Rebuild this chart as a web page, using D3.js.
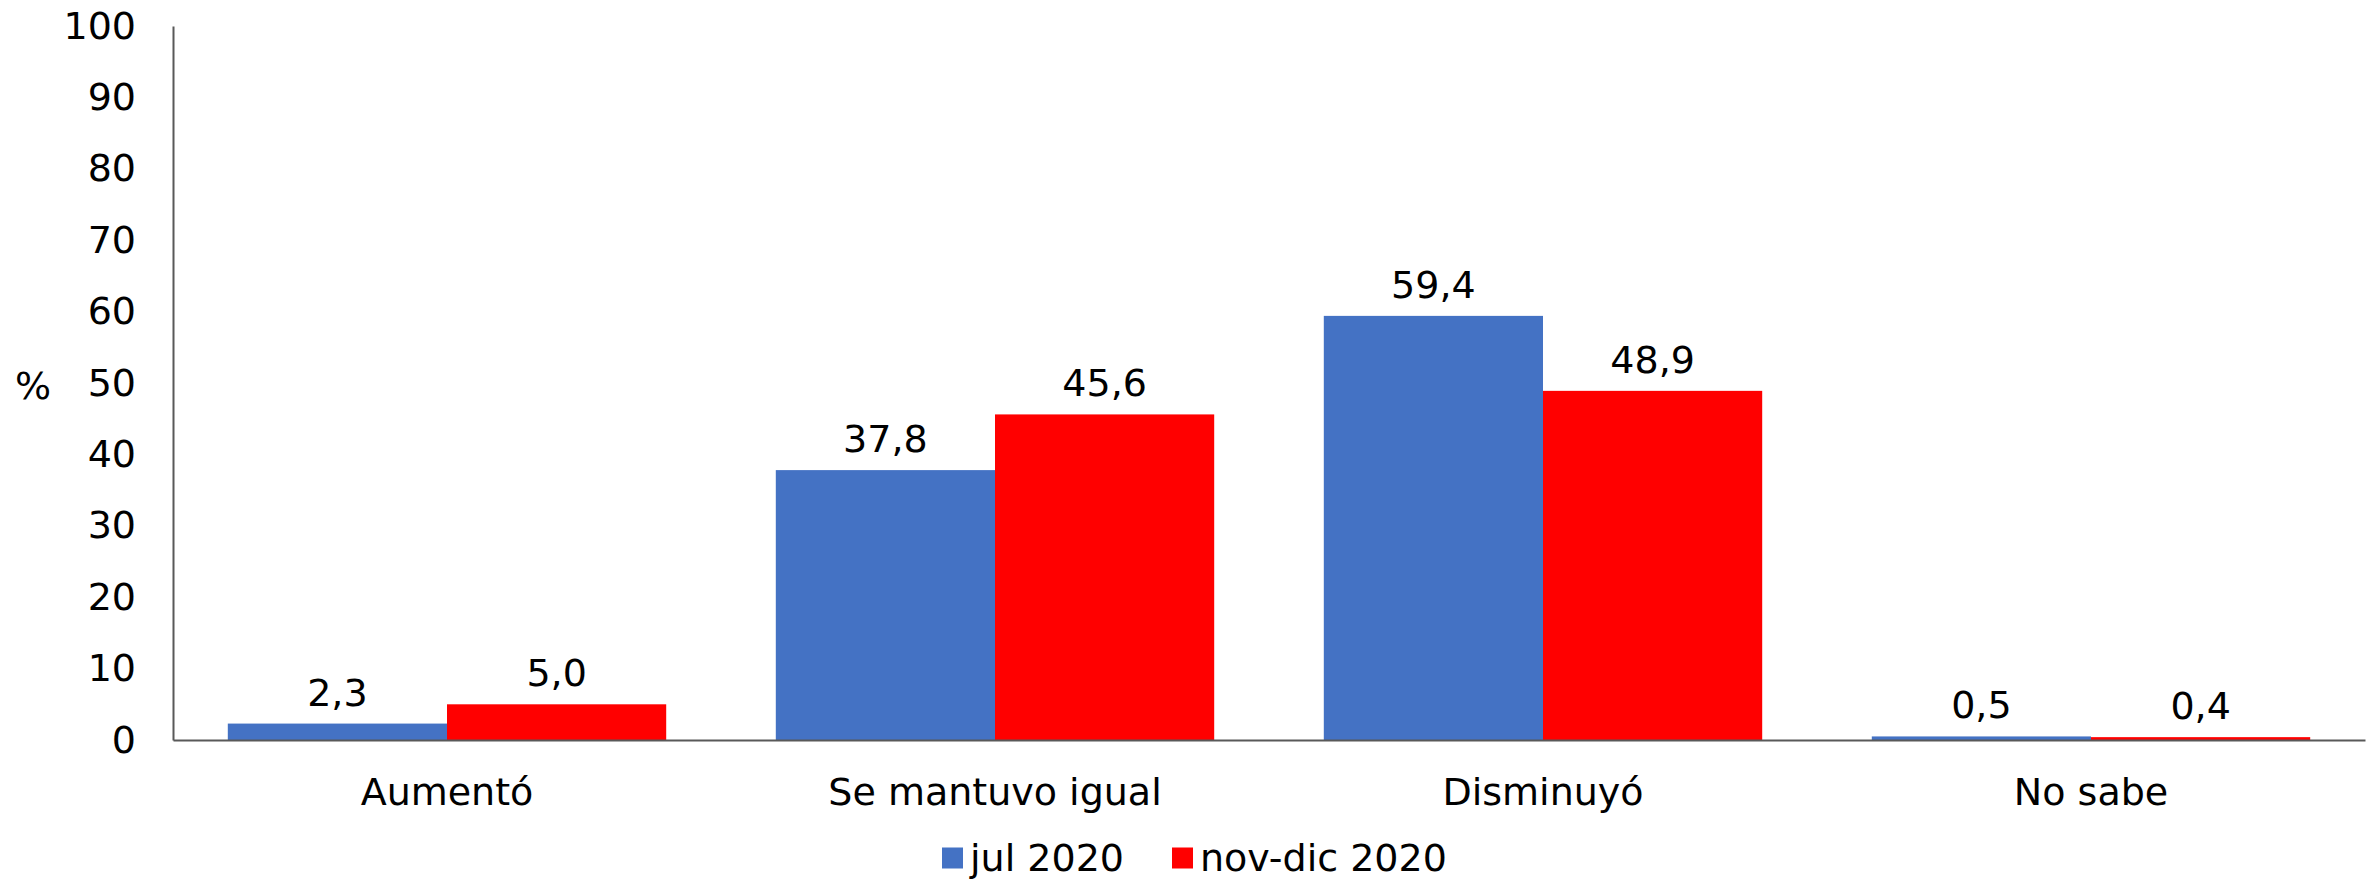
<!DOCTYPE html>
<html>
<head>
<meta charset="utf-8">
<script src="https://cdn.jsdelivr.net/npm/d3@7"></script>
<style>
	body { margin: 0; background: #fff; }
	svg { display: block; }
</style>
</head>
<body>
<svg id="chart" width="2374" height="879"></svg>
<script>
/*	Chart data ---------------------------------------------------------------*/
var categories = ["Aumentó", "Se mantuvo igual", "Disminuyó", "No sabe"];
var seriesNames = ["jul 2020", "nov-dic 2020"];
var julValues = [2.3, 37.8, 59.4, 0.5];
var novValues = [5.0, 45.6, 48.9, 0.4];
var yTicks = [0, 10, 20, 30, 40, 50, 60, 70, 80, 90, 100];
var colors = ["#4472C4", "#FF0000"];

var width = 2374, height = 879;
var padding = {left: 173, right: 9, top: 26, bottom: 139};
var fontFamily = "'DejaVu Sans', Verdana, sans-serif";
var fontSize = "38px";

var svg = d3.select("#chart");

/*	Scales ---------------------------------------------------------------------*/
var xScale = d3.scaleBand()
	.domain(categories)
	.range([padding.left, width - padding.right])
	.paddingInner(0)
	.paddingOuter(0);

var xInner = d3.scaleBand()
	.domain(seriesNames)
	.range([0, xScale.bandwidth()])
	.paddingInner(0)
	.paddingOuter(0.25);

var yScale = d3.scaleLinear()
	.domain([0, 100])
	.range([height - padding.bottom, padding.top]);

var rows = categories.map(function(c, i) {
	return {cat: c, values: [julValues[i], novValues[i]]};
});

/*	Bars -------------------------------------------------------------------------*/
var groups = svg.append("g").selectAll("g.group")
	.data(rows)
	.enter()
	.append("g")
	.attr("class", "group")
	.attr("transform", function(d) { return "translate(" + xScale(d.cat) + ",0)"; });

groups.selectAll("rect")
	.data(function(d) {
		return d.values.map(function(v, j) { return {name: seriesNames[j], value: v, idx: j}; });
	})
	.enter()
	.append("rect")
	.attr("x", function(d) { return xInner(d.name); })
	.attr("y", function(d) { return yScale(d.value); })
	.attr("width", xInner.bandwidth())
	.attr("height", function(d) { return yScale(0) - yScale(d.value); })
	.style("fill", function(d) { return colors[d.idx]; });

/*	Value labels ----------------------------------------------------------------*/
groups.selectAll("text.value")
	.data(function(d) {
		return d.values.map(function(v, j) { return {name: seriesNames[j], value: v}; });
	})
	.enter()
	.append("text")
	.attr("class", "value")
	.attr("x", function(d) { return xInner(d.name) + xInner.bandwidth() / 2; })
	.attr("y", function(d) { return yScale(d.value) - 18; })
	.attr("text-anchor", "middle")
	.attr("font-family", fontFamily)
	.attr("font-size", fontSize)
	.style("fill", "#000")
	.text(function(d) { return d.value.toFixed(1).replace(".", ","); });

/*	Y axis -----------------------------------------------------------------------*/
var yAxis = d3.axisLeft(yScale).tickValues(yTicks).tickSize(0).tickPadding(37);
var yAxisG = svg.append("g")
	.attr("id", "yAxis")
	.attr("transform", "translate(" + padding.left + ",0)")
	.call(yAxis);
yAxisG.select(".domain").attr("stroke", "#595959").attr("stroke-width", 2);
yAxisG.selectAll("g.tick text")
	.attr("font-family", fontFamily)
	.attr("font-size", fontSize)
	.style("fill", "#000");

svg.append("text")
	.attr("x", 33)
	.attr("y", yScale(50) + 16)
	.attr("text-anchor", "middle")
	.attr("font-family", fontFamily)
	.attr("font-size", fontSize)
	.text("%");

/*	X axis -----------------------------------------------------------------------*/
var xAxis = d3.axisBottom(xScale).tickSize(0).tickPadding(38);
var xAxisG = svg.append("g")
	.attr("id", "xAxis")
	.attr("transform", "translate(0," + yScale(0) + ")")
	.call(xAxis);
xAxisG.select(".domain").attr("stroke", "#595959").attr("stroke-width", 2);
xAxisG.selectAll("g.tick text")
	.attr("font-family", fontFamily)
	.attr("font-size", fontSize)
	.style("fill", "#000");

/*	Legend ------------------------------------------------------------------------*/
var legendX = [942, 1172];
var legend = svg.append("g").selectAll("g.legend")
	.data(seriesNames)
	.enter()
	.append("g")
	.attr("class", "legend")
	.attr("transform", function(d, i) { return "translate(" + legendX[i] + ",858)"; });
legend.append("rect")
	.attr("x", 0)
	.attr("y", -10.5)
	.attr("width", 21)
	.attr("height", 21)
	.style("fill", function(d, i) { return colors[i]; });
legend.append("text")
	.attr("x", 28)
	.attr("y", 13)
	.attr("font-family", fontFamily)
	.attr("font-size", fontSize)
	.text(function(d) { return d; });
</script>
</body>
</html>
